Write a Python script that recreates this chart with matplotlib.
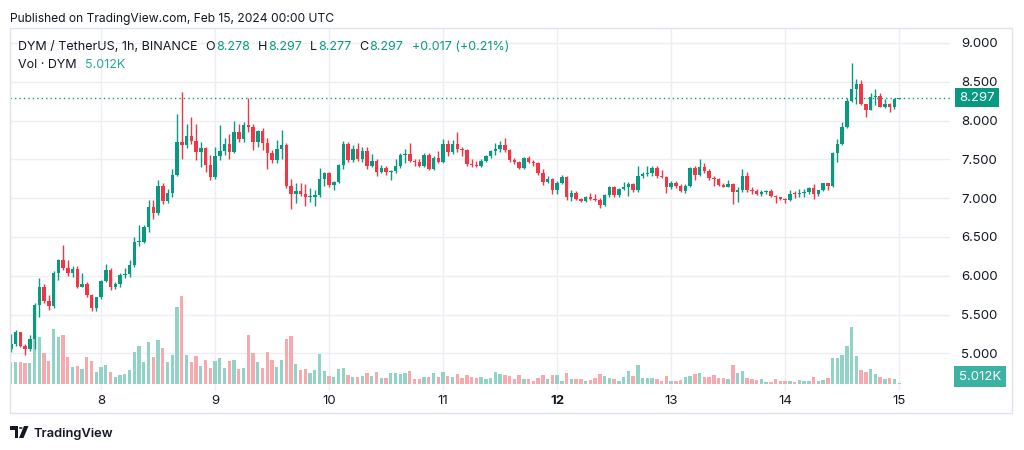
import matplotlib
matplotlib.use("Agg")
import matplotlib.pyplot as plt
from matplotlib.lines import Line2D
from matplotlib.patches import Rectangle, Polygon, Circle
from matplotlib.transforms import blended_transform_factory
import numpy as np

plt.rcParams['font.family'] = ['Inter', 'DejaVu Sans']

W, H = 1024, 450

UP = '#089981'
DOWN = '#f23645'
UP_VOL = '#92d3c8'
DOWN_VOL = '#f7a9ae'
TEXT = '#131722'
GRID = '#eceef3'
FRAME = '#e0e3eb'

# hourly candles, hour offset from Feb 8 00:00 UTC (Feb 7 05:00 .. Feb 15 00:00)
hours = list(range(-19, 169))

opens = [
    5.06, 5.12, 5.27, 5.10, 5.05, 5.18, 5.62, 5.86, 5.67, 5.61, 6.03, 6.20, 6.10, 6.04, 6.09, 5.86, 5.90, 5.75, 5.58,
    5.72, 5.93, 6.08, 5.86, 5.89, 6.01, 6.02, 6.14, 6.43, 6.44, 6.63, 6.88, 6.81, 7.16, 6.96, 7.07, 7.30, 7.73, 7.69, 7.80, 7.74, 7.60, 7.65, 7.43,
    7.27, 7.54, 7.61, 7.70, 7.60, 7.85, 7.76, 7.94, 7.92, 7.73, 7.87, 7.71, 7.58, 7.49, 7.64, 7.69, 7.16, 7.06, 7.09, 7.05, 7.01, 7.02, 7.04, 7.25,
    7.32, 7.17, 7.21, 7.43, 7.70, 7.49, 7.63, 7.50, 7.61, 7.41, 7.48, 7.34, 7.39, 7.34, 7.35, 7.41, 7.56, 7.57, 7.48, 7.47, 7.41, 7.56, 7.37, 7.52,
    7.46, 7.70, 7.59, 7.70, 7.63, 7.62, 7.44, 7.43, 7.41, 7.48, 7.54, 7.61, 7.64, 7.68, 7.62, 7.49, 7.46, 7.39, 7.52, 7.47, 7.45, 7.32, 7.21, 7.25,
    7.11, 7.20, 7.27, 7.02, 7.07, 6.99, 6.96, 7.02, 6.99, 6.98, 6.91, 7.04, 7.15, 7.04, 7.12, 7.15, 7.18, 7.10, 7.29, 7.31, 7.32, 7.39, 7.28, 7.27,
    7.14, 7.20, 7.16, 7.09, 7.16, 7.39, 7.30, 7.40, 7.35, 7.26, 7.25, 7.17, 7.15, 7.18, 7.08, 7.10, 7.29, 7.11, 7.09, 7.06, 7.08, 7.09, 7.03, 7.01,
    6.99, 6.97, 7.06, 7.05, 7.07, 7.08, 7.13, 7.05, 7.10, 7.19, 7.16, 7.58, 7.70, 7.92, 8.25, 8.41, 8.47, 8.21, 8.14, 8.30, 8.32, 8.18, 8.21, 8.17,
    8.278,
]
highs = [
    5.25, 5.30, 5.28, 5.12, 5.24, 5.65, 5.97, 5.90, 5.75, 6.06, 6.22, 6.40, 6.20, 6.12, 6.12, 6.04, 5.92, 5.76, 5.72,
    5.95, 6.15, 6.10, 5.92, 6.04, 6.10, 6.20, 6.50, 6.66, 6.66, 6.98, 6.98, 7.24, 7.20, 7.12, 7.37, 8.09, 8.37, 7.95, 8.05, 7.95, 7.73, 7.66, 7.55,
    7.66, 7.94, 7.77, 7.83, 8.00, 7.96, 7.98, 8.29, 7.96, 7.88, 7.90, 7.77, 7.62, 7.75, 7.88, 7.71, 7.25, 7.19, 7.20, 7.18, 7.13, 7.10, 7.39, 7.34,
    7.34, 7.22, 7.44, 7.74, 7.72, 7.68, 7.71, 7.66, 7.66, 7.57, 7.50, 7.43, 7.41, 7.36, 7.50, 7.58, 7.64, 7.71, 7.50, 7.51, 7.58, 7.58, 7.54, 7.61,
    7.76, 7.75, 7.75, 7.85, 7.66, 7.63, 7.50, 7.48, 7.50, 7.56, 7.62, 7.71, 7.74, 7.77, 7.63, 7.52, 7.48, 7.53, 7.54, 7.49, 7.46, 7.38, 7.28, 7.26,
    7.22, 7.30, 7.29, 7.10, 7.09, 7.00, 7.03, 7.07, 7.05, 7.00, 7.05, 7.16, 7.16, 7.13, 7.21, 7.21, 7.19, 7.42, 7.34, 7.42, 7.42, 7.42, 7.36, 7.28,
    7.22, 7.22, 7.18, 7.18, 7.40, 7.41, 7.50, 7.45, 7.37, 7.28, 7.26, 7.19, 7.23, 7.19, 7.15, 7.37, 7.34, 7.14, 7.12, 7.11, 7.11, 7.12, 7.04, 7.02,
    7.00, 7.10, 7.09, 7.12, 7.12, 7.14, 7.18, 7.11, 7.20, 7.20, 7.60, 7.76, 7.98, 8.29, 8.74, 8.54, 8.52, 8.22, 8.35, 8.41, 8.36, 8.28, 8.23, 8.29,
    8.297,
]
lows = [
    5.02, 5.10, 5.08, 4.98, 5.03, 5.06, 5.47, 5.65, 5.56, 5.58, 5.95, 6.08, 6.00, 5.98, 5.84, 5.85, 5.73, 5.55, 5.55,
    5.70, 5.92, 5.82, 5.83, 5.86, 5.97, 5.98, 6.11, 6.38, 6.42, 6.57, 6.73, 6.78, 6.92, 6.94, 7.01, 7.28, 7.51, 7.65, 7.70, 7.49, 7.40, 7.34, 7.23,
    7.25, 7.49, 7.55, 7.50, 7.58, 7.72, 7.73, 7.85, 7.62, 7.66, 7.62, 7.37, 7.45, 7.45, 7.51, 7.13, 6.86, 6.94, 7.03, 6.90, 6.95, 6.90, 7.02, 7.16,
    7.14, 7.10, 7.19, 7.38, 7.47, 7.47, 7.48, 7.47, 7.38, 7.40, 7.28, 7.32, 7.30, 7.24, 7.33, 7.39, 7.45, 7.47, 7.41, 7.40, 7.40, 7.36, 7.36, 7.45,
    7.45, 7.54, 7.57, 7.60, 7.54, 7.41, 7.40, 7.40, 7.40, 7.47, 7.52, 7.56, 7.60, 7.59, 7.47, 7.44, 7.37, 7.38, 7.45, 7.42, 7.30, 7.17, 7.19, 7.05,
    7.05, 7.18, 6.98, 6.96, 6.97, 6.95, 6.95, 6.97, 6.96, 6.87, 6.90, 7.02, 7.02, 7.02, 7.10, 7.03, 7.08, 7.08, 7.26, 7.29, 7.29, 7.26, 7.26, 7.07,
    7.12, 7.13, 7.08, 7.07, 7.15, 7.23, 7.28, 7.33, 7.24, 7.16, 7.16, 7.14, 7.14, 6.93, 6.95, 7.08, 7.08, 7.06, 7.04, 7.03, 7.05, 7.01, 6.94, 6.97,
    6.94, 6.96, 7.00, 7.01, 7.02, 7.06, 6.99, 7.03, 7.09, 7.10, 7.15, 7.46, 7.68, 7.90, 8.24, 8.22, 8.20, 8.04, 8.13, 8.20, 8.17, 8.16, 8.11, 8.15,
    8.277,
]
closes = [
    5.12, 5.27, 5.10, 5.05, 5.18, 5.62, 5.86, 5.67, 5.61, 6.03, 6.20, 6.10, 6.04, 6.09, 5.86, 5.90, 5.75, 5.58, 5.72,
    5.93, 6.08, 5.86, 5.89, 6.01, 6.02, 6.14, 6.43, 6.44, 6.63, 6.88, 6.81, 7.16, 6.96, 7.07, 7.30, 7.73, 7.69, 7.80, 7.74, 7.60, 7.65, 7.43, 7.27,
    7.54, 7.61, 7.70, 7.60, 7.85, 7.76, 7.94, 7.92, 7.73, 7.87, 7.71, 7.58, 7.49, 7.64, 7.69, 7.16, 7.06, 7.09, 7.05, 7.01, 7.02, 7.04, 7.25, 7.32,
    7.17, 7.21, 7.43, 7.70, 7.49, 7.63, 7.50, 7.61, 7.41, 7.48, 7.34, 7.39, 7.34, 7.35, 7.41, 7.56, 7.57, 7.48, 7.47, 7.41, 7.56, 7.37, 7.52, 7.46,
    7.70, 7.59, 7.70, 7.63, 7.62, 7.44, 7.43, 7.41, 7.48, 7.54, 7.61, 7.64, 7.68, 7.62, 7.49, 7.46, 7.39, 7.52, 7.47, 7.45, 7.32, 7.21, 7.25, 7.11,
    7.20, 7.27, 7.02, 7.07, 6.99, 6.96, 7.02, 6.99, 6.98, 6.91, 7.04, 7.15, 7.04, 7.12, 7.15, 7.18, 7.10, 7.29, 7.31, 7.32, 7.39, 7.28, 7.27, 7.14,
    7.20, 7.16, 7.09, 7.16, 7.39, 7.30, 7.40, 7.35, 7.26, 7.25, 7.17, 7.15, 7.18, 7.08, 7.10, 7.29, 7.11, 7.09, 7.06, 7.08, 7.09, 7.03, 7.01, 6.99,
    6.97, 7.06, 7.05, 7.07, 7.08, 7.13, 7.05, 7.10, 7.19, 7.16, 7.58, 7.70, 7.92, 8.25, 8.41, 8.47, 8.21, 8.14, 8.30, 8.32, 8.18, 8.21, 8.17, 8.28,
    8.297,
]
# volume in thousands of DYM
volumes = [
    86, 86, 83, 82, 79, 239, 179, 120, 88, 210, 182, 187, 105, 64, 70, 58, 105, 89, 47,
    67, 73, 45, 26, 35, 38, 54, 122, 146, 86, 160, 105, 169, 137, 86, 111, 297, 338, 111, 86, 108, 70, 92, 60,
    88, 99, 60, 88, 92, 56, 60, 188, 120, 86, 60, 122, 92, 64, 92, 172, 184, 77, 54, 56, 41, 54, 115, 50,
    31, 26, 58, 63, 36, 26, 28, 31, 41, 31, 46, 24, 22, 44, 44, 38, 41, 50, 19, 19, 26, 28, 44, 28,
    47, 31, 26, 37, 22, 35, 28, 22, 26, 20, 22, 45, 37, 33, 32, 18, 35, 18, 18, 13, 22, 33, 18, 35,
    35, 13, 44, 19, 19, 19, 13, 15, 22, 38, 31, 22, 18, 13, 28, 51, 31, 73, 24, 24, 22, 18, 12, 31,
    13, 13, 15, 26, 32, 38, 41, 28, 28, 33, 22, 22, 18, 73, 44, 51, 22, 18, 15, 18, 8, 9, 18, 12,
    12, 12, 9, 15, 10, 13, 28, 12, 15, 24, 101, 101, 111, 146, 220, 108, 54, 47, 56, 37, 28, 18, 24, 18,
    5.012,
]

day_ticks = [0, 24, 48, 72, 96, 120, 144, 168]
day_labels = ['8', '9', '10', '11', '12', '13', '14', '15']
price_ticks = [5.0, 5.5, 6.0, 6.5, 7.0, 7.5, 8.0, 8.5, 9.0]

last_price = 8.297
last_vol_label = '5.012K'

for arr in (opens, highs, lows, closes, volumes):
    assert len(arr) == len(hours)


def fx(px):
    return px / W


def fy(py):
    return 1 - py / H


fig = plt.figure(figsize=(W / 100, H / 100), dpi=100)
fig.patch.set_facecolor('white')

# pane in pixels: x 10..950, y 28..391
rect = [fx(10), fy(391), fx(950) - fx(10), fy(28) - fy(391)]
vax = fig.add_axes(rect)
ax = fig.add_axes(rect)
ax.patch.set_visible(False)

x = np.array(hours, dtype=float)
o = np.array(opens)
h = np.array(highs)
l = np.array(lows)
c = np.array(closes)
v = np.array(volumes, dtype=float)
up = c >= o

ax.set_xlim(-19.16, 178.7)
ax.set_ylim(4.515, 9.193)
vax.set_xlim(ax.get_xlim())
vax.set_ylim(-26.9, 1367)

# grid, drawn below the volume bars
gtrans = blended_transform_factory(vax.transAxes, ax.transData)
for p in price_ticks:
    vax.add_line(Line2D([0, 1], [p, p], transform=gtrans, color=GRID, lw=1, zorder=0))
for d in day_ticks:
    vax.axvline(d, color=GRID, lw=1, zorder=0)

# volume
vax.bar(x, v, width=0.7, color=np.where(up, UP_VOL, DOWN_VOL), linewidth=0, zorder=2)

# candles
cols = np.where(up, UP, DOWN)
ax.vlines(x, l, h, colors=cols, lw=1, zorder=3)
body_lo = np.minimum(o, c)
body_h = np.maximum(np.abs(c - o), 0.012)
ax.bar(x, body_h, bottom=body_lo, width=0.74, color=cols, linewidth=0, zorder=4)

# last price line
ax.axhline(last_price, color=UP, lw=1, ls=(0, (1, 2.2)), zorder=5)

for a in (ax, vax):
    for s in a.spines.values():
        s.set_visible(False)
vax.set_xticks([])
vax.set_yticks([])

ax.set_xticks(day_ticks)
ax.set_xticklabels(day_labels, fontsize=9.5, color=TEXT)
ax.get_xticklabels()[4].set_fontweight('bold')
ax.tick_params(axis='x', length=0, pad=3)
ax.yaxis.tick_right()
ax.set_yticks(price_ticks)
ax.set_yticklabels([f'{p:.3f}' for p in price_ticks], fontsize=9.5, color=TEXT)
ax.tick_params(axis='y', length=0, pad=8)

# price label box
ptrans = blended_transform_factory(fig.transFigure, ax.transData)
ax.text(fx(959), last_price, f'{last_price:.3f}', transform=ptrans, color='white',
        fontsize=9.5, va='center', ha='left', zorder=10, clip_on=False,
        bbox=dict(boxstyle='square,pad=0.3', fc=UP, ec='none'))
fig.text(fx(959), fy(376.5), last_vol_label, color='white', fontsize=9.5, va='center', ha='left',
         bbox=dict(boxstyle='square,pad=0.35', fc='#3bb3a0', ec='none'))

# frame around the widget
fig.patches.append(Rectangle((fx(10), fy(413)), fx(1012) - fx(10), fy(28) - fy(413),
                             transform=fig.transFigure, fill=False, ec=FRAME, lw=1))

renderer = fig.canvas.get_renderer()


def text_run(x_px, y_px, parts, size):
    xx = x_px
    for s, col, gap in parts:
        t = fig.text(fx(xx), fy(y_px), s, color=col, fontsize=size, va='baseline', ha='left')
        xx += t.get_window_extent(renderer=renderer).width + gap


fig.text(fx(10), fy(22), 'Published on TradingView.com, Feb 15, 2024 00:00 UTC',
         color=TEXT, fontsize=8.7, va='baseline', ha='left')

text_run(18, 50.5, [
    ('DYM / TetherUS, 1h, BINANCE', TEXT, 8),
    ('O', TEXT, 1), ('8.278', UP, 8),
    ('H', TEXT, 1), ('8.297', UP, 8),
    ('L', TEXT, 1), ('8.277', UP, 8),
    ('C', TEXT, 1), ('8.297', UP, 8),
    ('+0.017 (+0.21%)', UP, 0),
], 9)
text_run(18, 68, [('Vol · DYM', TEXT, 8), (last_vol_label, '#22ab94', 0)], 9)

# TradingView logo
lt = fig.transFigure
fig.patches.append(Polygon([(fx(10), fy(426)), (fx(18), fy(426)), (fx(18), fy(438)),
                            (fx(14.5), fy(438)), (fx(14.5), fy(429.5)), (fx(10), fy(429.5))],
                           closed=True, transform=lt, fc=TEXT, ec='none'))
fig.patches.append(Circle((fx(20.8), fy(428)), 1.9 / W, transform=lt, fc=TEXT, ec='none'))
fig.patches.append(Polygon([(fx(24), fy(426)), (fx(28.5), fy(426)), (fx(23.5), fy(438)), (fx(19), fy(438))],
                           closed=True, transform=lt, fc=TEXT, ec='none'))
fig.text(fx(33), fy(437), 'TradingView', color=TEXT, fontsize=9.3, fontweight='semibold',
         va='baseline', ha='left')

fig.savefig('out.png', dpi=100, facecolor='white')
